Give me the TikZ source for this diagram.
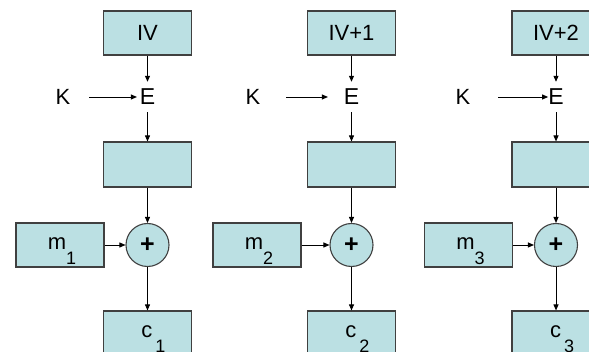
\documentclass[tikz,border=0pt]{standalone}
\usepackage{fontspec}
\setmainfont{Liberation Sans}
\usetikzlibrary{arrows.meta}
\definecolor{boxfill}{RGB}{187,224,227}
\definecolor{boxline}{RGB}{64,64,64}
\newcommand{\lowsub}[1]{\raisebox{-15pt}{\fontsize{18}{20}\selectfont #1}}
\tikzset{
  blk/.style={draw=boxline, line width=1.1pt, fill=boxfill, minimum width=88pt, minimum height=44pt, inner sep=0pt, font=\fontsize{22}{26}\selectfont},
  subtext/.style={text height=15pt, text depth=5pt},
  xorc/.style={circle, draw=boxline, line width=1.1pt, fill=boxfill, minimum size=43pt, inner sep=0pt, font=\fontsize{25}{28}\selectfont\bfseries},
  enc/.style={inner sep=0pt, minimum height=30pt, font=\fontsize{23}{26}\selectfont},
  keyl/.style={inner sep=0pt, font=\fontsize{22}{26}\selectfont},
  arr/.style={draw=black, line width=0.9pt, -{Triangle[length=6pt,width=5pt]}}
}
\begin{document}
\begin{tikzpicture}[x=1pt,y=-1pt]
\useasboundingbox (0,0) rectangle (589,352);
\clip (0,0) rectangle (589,352);
% column 1
\node[blk] (iv1) at (147.5,33) {IV};
\node[enc] (e1) at (147.5,97) {E};
\node[keyl] (k1) at (63,97) {K};
\node[blk, minimum height=45pt] (o1) at (147.5,164.5) {};
\node[xorc] (x1) at (147.5,245) {+};
\node[blk, subtext] (m1) at (60,245) {\hspace*{4pt}m\lowsub{1}};
\node[blk, subtext] (c1) at (147.5,333) {\hspace*{12pt}c\hspace{3pt}\lowsub{1}};
% column 2
\node[blk] (iv2) at (351.5,33) {IV+1};
\node[enc] (e2) at (351.5,97) {E};
\node[keyl] (k2) at (253,97) {K};
\node[blk, minimum height=45pt] (o2) at (351.5,164.5) {};
\node[xorc] (x2) at (351.5,245) {+};
\node[blk, subtext] (m2) at (257,245) {\hspace*{4pt}m\lowsub{2}};
\node[blk, subtext] (c2) at (351.5,333) {\hspace*{12pt}c\hspace{3pt}\lowsub{2}};
% column 3
\node[blk] (iv3) at (556,33) {IV+2};
\node[enc] (e3) at (556,97) {E};
\node[keyl] (k3) at (463,97) {K};
\node[blk, minimum height=45pt] (o3) at (556,164.5) {};
\node[xorc] (x3) at (556,245) {+};
\node[blk, subtext] (m3) at (468.5,245) {\hspace*{4pt}m\lowsub{3}};
\node[blk, subtext] (c3) at (556,333) {\hspace*{12pt}c\hspace{3pt}\lowsub{3}};
% connectors
\foreach \i in {1,2,3} {
  \draw[arr] (iv\i) -- (e\i);
  \draw[arr] (e\i) -- (o\i);
  \draw[arr] (o\i) -- (x\i);
  \draw[arr] (x\i) -- (c\i);
  \draw[arr] (m\i) -- (x\i);
}
\draw[arr, shorten <=18.5pt, shorten >=2.7pt] (k1) -- (e1);
\draw[arr, shorten <=25.7pt, shorten >=15.7pt] (k2) -- (e2);
\draw[arr, shorten <=27.7pt, shorten >=0pt] (k3) -- (e3);
\end{tikzpicture}
\end{document}
